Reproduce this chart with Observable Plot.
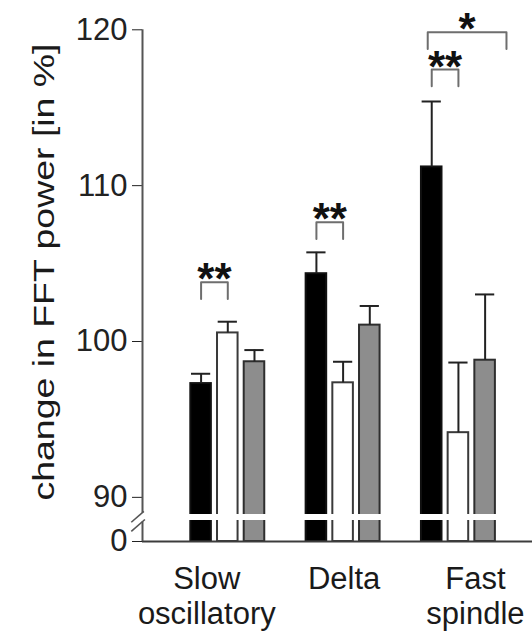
<!DOCTYPE html>
<html>
<head>
<meta charset="utf-8">
<script src="https://cdn.jsdelivr.net/npm/d3@7"></script>
<script src="https://cdn.jsdelivr.net/npm/@observablehq/plot@0.6"></script>
<style>
  html, body { margin: 0; padding: 0; background: #fff; }
</style>
</head>
<body>
<div id="chart"></div>
<script>
// ---- data ----
const groups = ["Slow oscillatory", "Delta", "Fast spindle"];
const groupLabels = ["Slow\noscillatory", "Delta", "Fast\nspindle"];
const conditions = ["black", "white", "gray"];
const meanBlack = [97.3, 104.35, 111.2];
const meanWhite = [100.55, 97.35, 94.15];
const meanGray  = [98.7, 101.05, 98.8];
const errBlack  = [0.63, 1.37, 4.2];
const errWhite  = [0.72, 1.35, 4.5];
const errGray   = [0.75, 1.23, 4.22];
const yTicks = [0, 90, 100, 110, 120];
const yLabel = "change in FFT power [in %]";
// significance brackets (conditions compared by index within a group)
const bracketGroup = ["Slow oscillatory", "Delta", "Fast spindle", "Fast spindle"];
const bracketFrom  = [0, 0, 0, -0.15];
const bracketTo    = [1, 1, 1, 2.8];
const bracketTop   = [103.8, 107.65, 117.45, 119.85];
const bracketLabel = ["**", "**", "**", "*"];

// ---- layout / style constants ----
const xMin = -1.81, xMax = 12.8;
const groupStep = 4.32, barW = 0.77, capHalf = 0.36, legLen = 1.08;
const fills   = ["#000000", "#ffffff", "#8d8d8d"];
const strokes = ["#111111", "#3a3a3a", "#2e2e2e"];
const labelDx = [-21, 1, 17];

const means = [meanBlack, meanWhite, meanGray];
const errs = [errBlack, errWhite, errGray];
const rows = [];
groups.forEach((g, gi) => conditions.forEach((c, ci) => {
  rows.push({group: g, cond: c, gi, ci, mean: means[ci][gi], err: errs[ci][gi]});
}));
const left = d => d.gi * groupStep + d.ci;
const right = d => left(d) + barW;
const center = d => left(d) + barW / 2;

const brackets = bracketGroup.map((g, i) => {
  const gi = groups.indexOf(g);
  return {
    id: i, label: bracketLabel[i], top: bracketTop[i],
    xL: gi * groupStep + bracketFrom[i] + barW / 2,
    xR: gi * groupStep + bracketTo[i] + barW / 2
  };
});
const bracketPts = brackets.flatMap(b => [
  {id: b.id, x: b.xL, y: b.top - legLen},
  {id: b.id, x: b.xL, y: b.top},
  {id: b.id, x: b.xR, y: b.top},
  {id: b.id, x: b.xR, y: b.top - legLen}
]);

// axis break slashes (broken y axis between 0 and 90)
const slashes = [
  {x1: -2.23, y1: 55, x2: -1.76, y2: 89.1},
  {x1: -2.23, y1: 29, x2: -1.72, y2: 64.8}
];

const font = "'Liberation Sans', Arial, Helvetica, sans-serif";

const chart = Plot.plot({
  width: 532,
  height: 636,
  marginLeft: 142,
  marginRight: 0,
  marginTop: 29,
  marginBottom: 95,
  style: {fontFamily: font, fontSize: "31px", color: "#222", background: "#fff", overflow: "visible"},
  x: {type: "linear", domain: [xMin, xMax], axis: null},
  y: {
    type: "linear",
    domain: [0, 60, 88.9, 120],
    range: [541, 520, 514, 29.3],
    ticks: yTicks,
    tickSize: 10,
    tickPadding: 5,
    tickFormat: d => String(d),
    label: null
  },
  marks: [
    // bars
    Plot.rectY(rows, {x1: left, x2: right, y1: 0, y2: "mean",
      fill: d => fills[d.ci], stroke: d => strokes[d.ci], strokeWidth: 2}),
    // white break band through bars
    Plot.rectY(rows, {x1: left, x2: right, y1: 60, y2: 88.9, fill: "#fff",
      insetLeft: -2, insetRight: -2}),
    // baseline
    Plot.ruleY([0], {stroke: "#3c3c3c", strokeWidth: 2}),
    // y axis line (two pieces)
    Plot.ruleX([xMin], {y1: 89.0, y2: 120, stroke: "#555", strokeWidth: 2}),
    Plot.ruleX([xMin], {y1: 0, y2: 56, stroke: "#555", strokeWidth: 2}),
    // break slashes
    Plot.link(slashes, {x1: "x1", y1: "y1", x2: "x2", y2: "y2", stroke: "#555", strokeWidth: 1.6}),
    // error bars
    Plot.ruleX(rows, {x: center, y1: "mean", y2: d => d.mean + d.err, stroke: "#222", strokeWidth: 2}),
    Plot.ruleY(rows, {y: d => d.mean + d.err, x1: d => center(d) - capHalf, x2: d => center(d) + capHalf,
      stroke: "#222", strokeWidth: 2}),
    // significance brackets
    Plot.line(bracketPts, {x: "x", y: "y", z: "id", stroke: "#6e6e6e", strokeWidth: 2}),
    Plot.text(brackets, {x: d => (d.xL + d.xR) / 2, y: "top", text: "label",
      fontSize: 44, fontWeight: "bold", fill: "#111", lineAnchor: "bottom", dy: 12}),
    // category labels
    ...groups.map((g, gi) => Plot.text([g], {
      x: () => gi * groupStep + 1 + barW / 2,
      text: () => groupLabels[gi],
      frameAnchor: "bottom", dx: labelDx[gi], dy: 21.5,
      lineAnchor: "top", lineHeight: 1.16, fontSize: 31, fill: "#1a1a1a"
    })),
    // y label
    Plot.text([yLabel], {frameAnchor: "left", rotate: -90, dx: -88.5, dy: -13.5,
      text: d => d, fontSize: 30, textAnchor: "middle", lineAnchor: "bottom", fill: "#1a1a1a"})
  ]
});

d3.select(chart).selectAll("text")
  .filter(function () { return this.textContent === yLabel; })
  .attr("textLength", 457)
  .attr("lengthAdjust", "spacingAndGlyphs");

document.getElementById("chart").appendChild(chart);
</script>
</body>
</html>
